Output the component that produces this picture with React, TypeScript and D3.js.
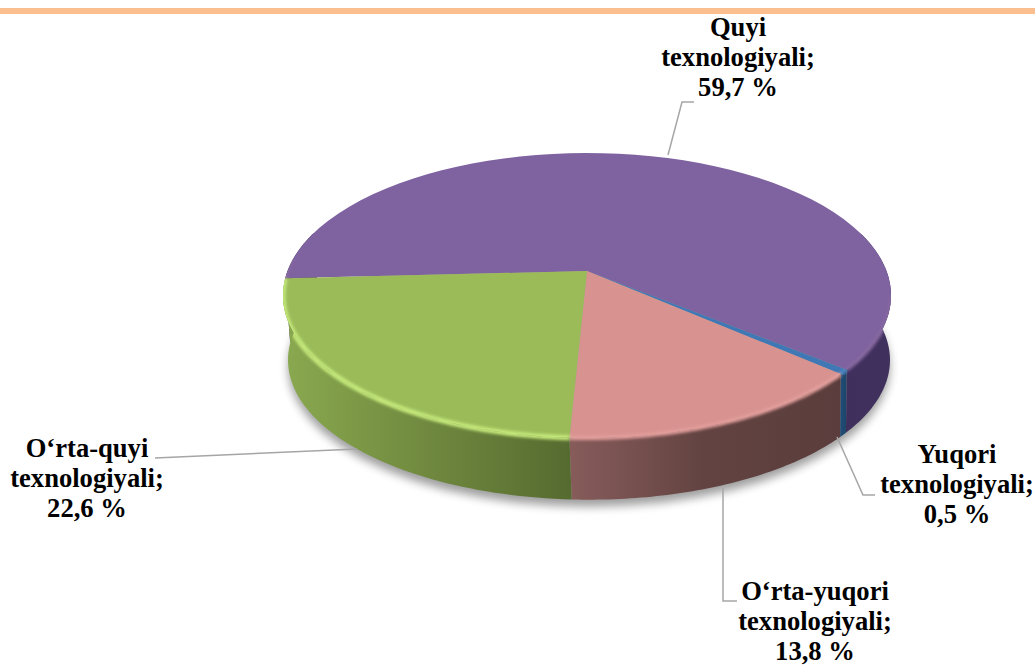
import React from 'react';
import * as d3 from 'd3';

const categories = ['Quyi', 'Yuqori', "O‘rta-yuqori", "O‘rta-quyi"];
const values = [59.7, 0.5, 13.8, 22.6];
const topColors = ['#7f62a0', '#3f78b4', '#d89391', '#9bbb59'];
const glowColors = ['#86689f', '#4a88c8', '#e39f9c', '#c6ea7c'];
const wallStart = ['#3a2b57', '#1f4d78', '#875c5b', '#8aa94f'];
const wallMid = ['#3c2d5a', '#1e4970', '#624341', '#70893f'];
const wallEnd = ['#40305e', '#1c4568', '#5a3d3c', '#566b30'];

const width = 1035;
const height = 666;
const serif = '"Liberation Serif", "Times New Roman", serif';

// view of the pie plane: apex, half axes and perspective strength
const apex = { x: 587, y: 271 };
const axisX = 299.5;
const axisY = 138.3;
const persp = 0.172;
const depth = 65;
const bottomShiftX = 2;
const bottomScaleX = 0.99;
const bottomScaleY = 0.98;
const firstAngle = (267 * Math.PI) / 180;

const labels = [
  { lines: ['Quyi', 'texnologiyali;', '59,7 %'], x: 738, y: 36, leader: [[668, 155], [682, 102], [694, 102]] },
  { lines: ['Yuqori', 'texnologiyali;', '0,5 %'], x: 957, y: 463, leader: [[837, 437], [863, 495], [875, 495]] },
  { lines: ['O‘rta-yuqori', 'texnologiyali;', '13,8 %'], x: 815, y: 600, leader: [[723, 488], [723, 601], [737, 601]] },
  { lines: ['O‘rta-quyi', 'texnologiyali;', '22,6 %'], x: 87, y: 457, leader: [[357, 449], [155, 458]] },
];

// d3 pie angle (0 at 12 o'clock, clockwise) onto the tilted plane
const project = (a: number): [number, number] => {
  const u = Math.sin(a);
  const v = -Math.cos(a);
  const w = 1 - persp * v;
  return [apex.x + axisX * u / w, apex.y + axisY * v / w];
};

const projectBottom = (a: number): [number, number] => {
  const [x, y] = project(a);
  return [
    apex.x + bottomShiftX + (x - apex.x) * bottomScaleX,
    apex.y + depth + (y - apex.y) * bottomScaleY,
  ];
};

const sample = (a0: number, a1: number, fn = project) =>
  d3.range(0, 61).map(i => fn(a0 + (a1 - a0) * i / 60));

const pieLayout = d3.pie<number>()
  .sort(null)
  .startAngle(firstAngle)
  .endAngle(firstAngle + 2 * Math.PI);

const lineGen = d3.line();

// parts of a slice's rim inside the angle window [lo, hi]
const runsIn = (a0: number, a1: number, lo: number, hi: number) => {
  const runs: [number, number][] = [];
  let start: number | null = null;
  let prev = a0;
  d3.range(0, 181).forEach(i => {
    const a = a0 + (a1 - a0) * i / 180;
    const w = ((a % (2 * Math.PI)) + 2 * Math.PI) % (2 * Math.PI);
    const inside = w >= lo && w <= hi;
    if (inside && start === null) start = a;
    if (!inside && start !== null) {
      runs.push([start, prev]);
      start = null;
    }
    prev = a;
  });
  if (start !== null) runs.push([start, a1]);
  return runs;
};

const frontRuns = (a0: number, a1: number) => runsIn(a0, a1, Math.PI * 0.5 - 0.3, Math.PI * 1.5 + 0.3);
const rimRuns = (a0: number, a1: number) => runsIn(a0, a1, Math.PI * 0.5 + 0.17, Math.PI * 1.5 + 0.1);

export default function App() {
  const arcs = pieLayout(values);

  const topPath = (a0: number, a1: number) =>
    lineGen([[apex.x, apex.y], ...sample(a0, a1)]) + 'Z';

  const wallPath = (a0: number, a1: number) =>
    lineGen([...sample(a0, a1), ...sample(a1, a0, projectBottom)]) + 'Z';

  const fullTop = lineGen(sample(0, 2 * Math.PI)) + 'Z';
  const fullWall = wallPath(Math.PI * 0.5 - 0.3, Math.PI * 1.5 + 0.3);

  return (
    <svg
      width={width}
      height={height}
      viewBox={`0 0 ${width} ${height}`}
      style={{ position: 'absolute', left: 0, top: 0, background: '#fff' }}
    >
      <defs>
        <filter id="blurShadow" x="-20%" y="-20%" width="140%" height="140%">
          <feGaussianBlur stdDeviation="5" />
        </filter>
        <filter id="blurGlow" x="-10%" y="-10%" width="120%" height="120%">
          <feGaussianBlur stdDeviation="1.8" />
        </filter>
        <clipPath id="discClip">
          <path d={fullTop} />
          <path d={fullWall} />
        </clipPath>
        {arcs.map((d, i) => {
          const pts = frontRuns(d.startAngle, d.endAngle).flatMap(r => sample(r[0], r[1]));
          const ext = d3.extent(pts, p => p[0]) as [number, number];
          return (
            <linearGradient key={i} id={`wall${i}`} gradientUnits="userSpaceOnUse" x1={ext[0]} x2={ext[1]} y1={0} y2={0}>
              <stop offset="0" stopColor={wallStart[i]} />
              <stop offset="0.5" stopColor={wallMid[i]} />
              <stop offset="1" stopColor={wallEnd[i]} />
            </linearGradient>
          );
        })}
      </defs>

      <rect x={0} y={8} width={width} height={6} fill="#fbbf8f" />

      {/* soft shadow under the disc */}
      <path
        d={lineGen(sample(0, 2 * Math.PI, a => {
          const [x, y] = projectBottom(a);
          return [x, y + 7] as [number, number];
        })) + 'Z'}
        fill="#000"
        opacity={0.38}
        filter="url(#blurShadow)"
      />

      {arcs.map((d, i) =>
        frontRuns(d.startAngle, d.endAngle).map((r, j) => (
          <path key={`${i}-${j}`} d={wallPath(r[0], r[1])} fill={`url(#wall${i})`} />
        ))
      )}

      {arcs.map((d, i) => (
        <path key={i} d={topPath(d.startAngle, d.endAngle)} fill={topColors[i]} />
      ))}

      {/* bevel highlight along the front rim */}
      <g clipPath="url(#discClip)">
        {arcs.map((d, i) =>
          rimRuns(d.startAngle, d.endAngle).map((r, j) => (
            <path
              key={`${i}-${j}`}
              d={lineGen(sample(r[0], r[1])) as string}
              fill="none"
              stroke={glowColors[i]}
              strokeWidth={i === 3 ? 5 : 4}
              filter="url(#blurGlow)"
            />
          ))
        )}
      </g>

      {labels.map((l, i) => (
        <g key={i}>
          <path d={lineGen(l.leader as [number, number][]) as string} fill="none" stroke="#a6a6a6" strokeWidth={1.5} />
          <text
            x={l.x}
            y={l.y}
            textAnchor="middle"
            fontFamily={serif}
            fontWeight="bold"
            fontSize={26.6}
            fill="#000"
          >
            {l.lines.map((t, j) => (
              <tspan key={j} x={l.x} dy={j === 0 ? 0 : 30}>{t}</tspan>
            ))}
          </text>
        </g>
      ))}
    </svg>
  );
}
